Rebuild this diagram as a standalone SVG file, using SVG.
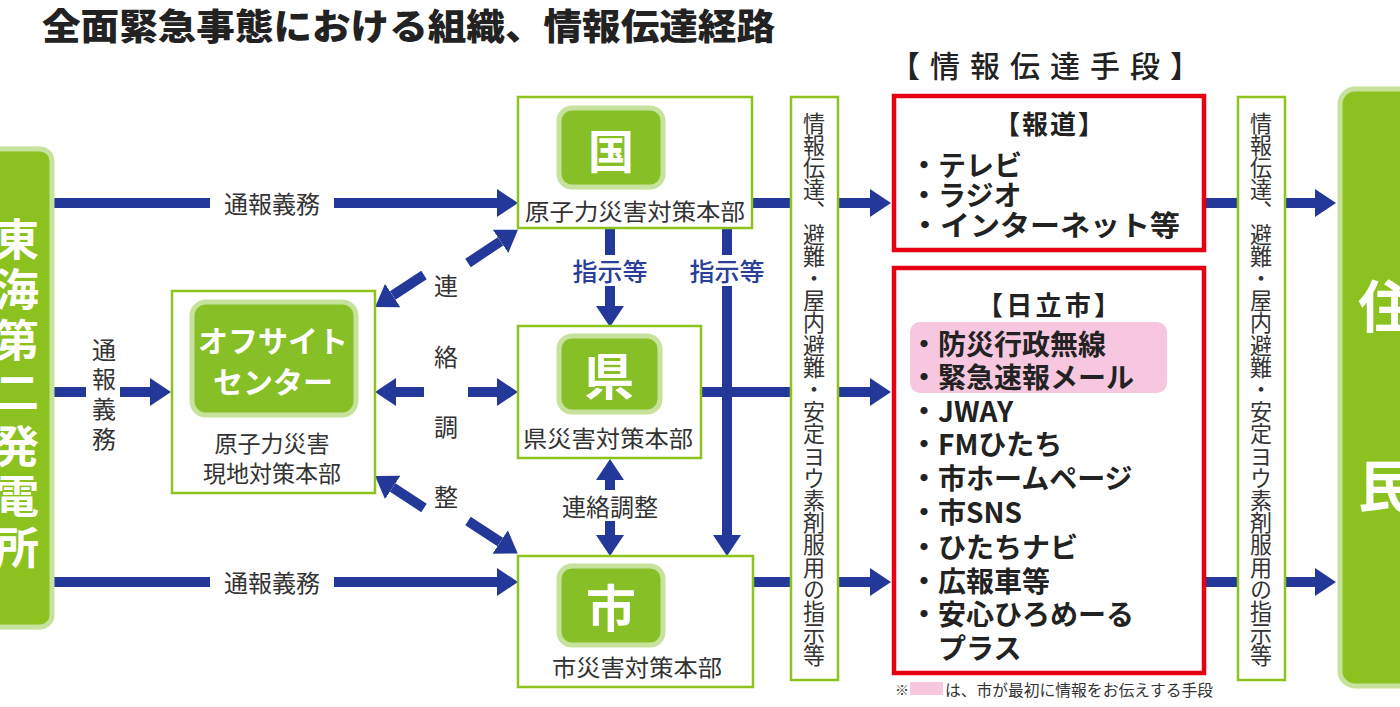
<svg xmlns="http://www.w3.org/2000/svg" width="1400" height="707" viewBox="0 0 1400 707">
<style>
text{font-family:"Noto Sans CJK JP","Noto Sans CJK SC",sans-serif;}
.frame{fill:#fff;stroke:#8dc21f;stroke-width:2.5;}
.badge{fill:#86bf26;stroke:#c6e29c;stroke-width:5;}
.big{fill:#8cc21f;stroke:#c6e29c;stroke-width:5;}
.red{fill:#fff;stroke:#e60012;stroke-width:4.5;}
.ln{fill:none;stroke:#24389a;stroke-width:10;}
.arr{fill:none;stroke:#24389a;stroke-width:10;marker-end:url(#ah);}
.lbl{font-size:24px;fill:#333;dominant-baseline:central;text-anchor:middle;}
.blue{font-size:25px;fill:#2b3f9a;dominant-baseline:central;text-anchor:middle;font-weight:500;}
.wt{fill:#fff;font-weight:bold;dominant-baseline:central;text-anchor:middle;}
.cap{font-size:23px;fill:#333;dominant-baseline:central;text-anchor:middle;}
.vt{font-size:22px;fill:#333;writing-mode:vertical-rl;}
.item{font-size:28px;fill:#222;font-weight:bold;dominant-baseline:central;}
.head{fill:#222;font-weight:bold;dominant-baseline:central;}
</style>
<defs>
<marker id="ah" markerUnits="userSpaceOnUse" markerWidth="22" markerHeight="28" viewBox="0 0 22 28" refX="0" refY="14" orient="auto">
<path d="M0,0 L21,14 L0,28 Z" fill="#24389a"/>
</marker>
</defs>
<rect width="1400" height="707" fill="#fff"/>

<text x="42" y="40" font-size="36" font-weight="900" fill="#222" textLength="733" lengthAdjust="spacingAndGlyphs">全面緊急事態における組織、情報伝達経路</text>

<g id="connectors">
<path class="ln" d="M52 203 H210"/>
<path class="arr" d="M334 203 H497"/>
<path class="ln" d="M52 392 H86"/>
<path class="arr" d="M120 392 H150"/>
<path class="ln" d="M52 582 H210"/>
<path class="arr" d="M334 582 H497"/>
<path class="ln" d="M610 228 V255"/>
<path class="arr" d="M610 286 V306"/>
<path class="ln" d="M727 228 V255"/>
<path class="arr" d="M727 286 V535"/>
<path class="ln" d="M700 392 H800"/>
<path class="ln" d="M752 203 H800"/>
<path class="ln" d="M752 582 H800"/>
<path class="arr" d="M830 203 H870"/>
<path class="arr" d="M830 392 H870"/>
<path class="arr" d="M830 582 H870"/>
<path class="ln" d="M1205 203 H1245"/>
<path class="ln" d="M1205 582 H1245"/>
<path class="arr" d="M1280 203 H1315"/>
<path class="arr" d="M1280 582 H1315"/>
<path class="arr" d="M468 263 L500.5 241.3"/>
<path class="arr" d="M424 275 L392.7 295.5"/>
<path class="arr" d="M424 392 H396"/>
<path class="arr" d="M468 392 H497"/>
<path class="arr" d="M424 508 L392.7 487.5"/>
<path class="arr" d="M468 521 L500.2 542"/>
<path class="arr" d="M610 490 V480"/>
<path class="arr" d="M610 521 V535"/>
<text class="lbl" x="272" y="202">通報義務</text>
<text class="lbl" x="272" y="581">通報義務</text>
<text class="lbl" x="104" y="348">通</text>
<text class="lbl" x="104" y="377">報</text>
<text class="lbl" x="104" y="407">義</text>
<text class="lbl" x="104" y="437">務</text>
<text class="blue" x="610" y="270">指示等</text>
<text class="blue" x="727" y="270">指示等</text>
<text class="lbl" x="610" y="505">連絡調整</text>
<text class="lbl" x="446" y="284" font-size="27">連</text>
<text class="lbl" x="446" y="355" font-size="27">絡</text>
<text class="lbl" x="446" y="425" font-size="27">調</text>
<text class="lbl" x="446" y="495" font-size="27">整</text>
</g>

<g id="tokai">
<rect class="big" x="-20" y="149" width="72" height="478" rx="12"/>
<text class="wt" x="17" y="237" font-size="44">東</text>
<text class="wt" x="17" y="287" font-size="44">海</text>
<text class="wt" x="17" y="338" font-size="44">第</text>
<text class="wt" x="17" y="390" font-size="44">二</text>
<text class="wt" x="17" y="444" font-size="44">発</text>
<text class="wt" x="17" y="494" font-size="44">電</text>
<text class="wt" x="17" y="545" font-size="44">所</text>
</g>

<g id="offsite">
<rect class="frame" x="172" y="291" width="203" height="202"/>
<rect class="badge" x="192" y="302" width="164" height="113" rx="14"/>
<text class="wt" x="273" y="339" font-size="30">オフサイト</text>
<text class="wt" x="273" y="380" font-size="30">センター</text>
<text class="cap" x="272" y="442">原子力災害</text>
<text class="cap" x="272" y="472">現地対策本部</text>
</g>

<g id="kuni">
<rect class="frame" x="518" y="97" width="234" height="131"/>
<rect class="badge" x="559" y="108" width="104" height="79" rx="13"/>
<text class="wt" x="611" y="148" font-size="46">国</text>
<text class="cap" x="635" y="210" textLength="220" lengthAdjust="spacingAndGlyphs">原子力災害対策本部</text>
</g>

<g id="ken">
<rect class="frame" x="518" y="326" width="183" height="132"/>
<rect class="badge" x="559" y="336" width="101" height="76" rx="13"/>
<text class="wt" x="609" y="373" font-size="50">県</text>
<text class="cap" x="608" y="437" textLength="170" lengthAdjust="spacingAndGlyphs">県災害対策本部</text>
</g>

<g id="shi">
<rect class="frame" x="518" y="556" width="235" height="131"/>
<rect class="badge" x="559" y="566" width="104" height="79" rx="13"/>
<text class="wt" x="611" y="605" font-size="50">市</text>
<text class="cap" x="637" y="666" textLength="170" lengthAdjust="spacingAndGlyphs">市災害対策本部</text>
</g>

<g id="instr1">
<rect class="frame" x="791" y="97" width="47" height="583"/>
<text class="vt" x="814" y="112" textLength="555" lengthAdjust="spacingAndGlyphs">情報伝達、避難・屋内避難・安定ヨウ素剤服用の指示等</text>
</g>

<g id="means-title">
<text class="head" x="890" y="64" font-size="30" textLength="310" lengthAdjust="spacing" style="font-weight:500">【情報伝達手段】</text>
</g>

<g id="media">
<rect class="red" x="894" y="96" width="310" height="154"/>
<text class="head" x="994" y="122" font-size="26" textLength="110" lengthAdjust="spacing">【報道】</text>
<text class="item" x="910" y="164">・テレビ</text>
<text class="item" x="910" y="194">・ラジオ</text>
<text class="item" x="910" y="224" textLength="270" lengthAdjust="spacingAndGlyphs">・インターネット等</text>
</g>

<g id="hitachi">
<rect class="red" x="894" y="268" width="310" height="405"/>
<rect x="910" y="322" width="257" height="71" rx="10" fill="#f6c7de"/>
<text class="head" x="977" y="303" font-size="26" textLength="143" lengthAdjust="spacing">【日立市】</text>
<text class="item" x="910" y="343">・防災行政無線</text>
<text class="item" x="910" y="376">・緊急速報メール</text>
<text class="item" x="910" y="410">・JWAY</text>
<text class="item" x="910" y="443">・FMひたち</text>
<text class="item" x="910" y="477">・市ホームページ</text>
<text class="item" x="910" y="511">・市SNS</text>
<text class="item" x="910" y="546">・ひたちナビ</text>
<text class="item" x="910" y="580">・広報車等</text>
<text class="item" x="910" y="613">・安心ひろめーる</text>
<text class="item" x="938" y="647">プラス</text>
</g>

<g id="note">
<text x="895" y="689" font-size="14" fill="#333" dominant-baseline="central">※</text>
<rect x="910" y="682" width="33" height="13" fill="#f6c7de"/>
<text x="945" y="689" font-size="15.5" fill="#333" dominant-baseline="central" textLength="268" lengthAdjust="spacingAndGlyphs">は、市が最初に情報をお伝えする手段</text>
</g>

<g id="instr2">
<rect class="frame" x="1238" y="97" width="47" height="583"/>
<text class="vt" x="1261" y="112" textLength="555" lengthAdjust="spacingAndGlyphs">情報伝達、避難・屋内避難・安定ヨウ素剤服用の指示等</text>
</g>

<g id="residents">
<rect class="big" x="1340" y="89" width="80" height="597" rx="15"/>
<text class="wt" x="1386" y="302" font-size="56">住</text>
<text class="wt" x="1386" y="482" font-size="56">民</text>
</g>
</svg>
